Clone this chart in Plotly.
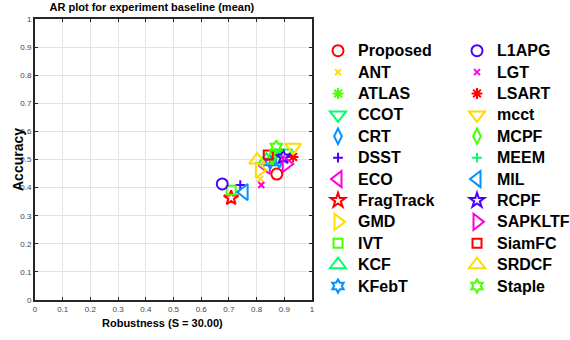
import plotly.graph_objects as go

trackers = ["Proposed", "ANT", "ATLAS", "CCOT", "CRT", "DSST", "ECO", "FragTrack",
            "GMD", "IVT", "KCF", "KFebT", "L1APG", "LGT", "LSART", "mcct", "MCPF",
            "MEEM", "MIL", "RCPF", "SAPKLTF", "SiamFC", "SRDCF", "Staple"]
robustness = [0.873, 0.813, 0.867, 0.900, 0.882, 0.741, 0.835, 0.708,
              0.810, 0.708, 0.835, 0.849, 0.676, 0.817, 0.932, 0.932, 0.857,
              0.885, 0.755, 0.896, 0.907, 0.842, 0.802, 0.871]
accuracy = [0.448, 0.431, 0.523, 0.523, 0.498, 0.409, 0.477, 0.363,
            0.463, 0.391, 0.498, 0.491, 0.413, 0.409, 0.509, 0.544, 0.509,
            0.527, 0.384, 0.509, 0.484, 0.516, 0.498, 0.544]

palette = ["#ff0000", "#ffdb00", "#49ff00", "#00ff6d", "#0092ff", "#4900ff", "#ff00db"]
symbols = ["circle-open", "x-thin-open", "asterisk-open", "triangle-down-open",
           "diamond-tall-open", "cross-thin-open", "triangle-left-open", "star-open",
           "triangle-right-open", "square-open", "triangle-up-open", "hexagram-open"]
sizes = {"circle-open": 11, "x-thin-open": 6, "asterisk-open": 9, "triangle-down-open": 14,
         "diamond-tall-open": 11, "cross-thin-open": 7, "triangle-left-open": 14,
         "star-open": 11, "triangle-right-open": 14, "square-open": 9,
         "triangle-up-open": 14, "hexagram-open": 10}

fig = go.Figure()
for i, name in enumerate(trackers):
    sym = symbols[i % 12]
    col = palette[i % 7]
    fig.add_trace(go.Scatter(
        x=[robustness[i]], y=[accuracy[i]], mode="markers",
        name='<span style="font-size:16px">' + name + '</span>',
        legend="legend" if i < 12 else "legend2",
        marker=dict(symbol=sym, size=sizes[sym], color=col,
                    line=dict(color=col, width=2)),
    ))

axis_common = dict(
    range=[0, 1], dtick=0.1, showgrid=True, gridcolor="#e3e3e3", gridwidth=1,
    zeroline=False, showline=True, linecolor="#262626", linewidth=2, mirror="ticks",
    ticks="inside", ticklen=3, tickcolor="#262626", tickwidth=1, automargin=False,
    tickfont=dict(family="Liberation Sans Narrow, Arial Narrow, Liberation Sans", size=8, color="#444444"),
)
fig.update_xaxes(**axis_common, ticklabelstandoff=0)
fig.update_yaxes(**axis_common, ticklabelstandoff=0)

legend_common = dict(
    xref="container", yref="container",
    yanchor="top", y=1 - 35 / 340, xanchor="left", maxheight=330,
    font=dict(family="Liberation Sans, Arial", size=14.15, color="#000000", weight="bold"),
    bgcolor="rgba(0,0,0,0)", borderwidth=0, itemclick=False,
)

fig.update_layout(
    width=570, height=340,
    margin=dict(l=35, r=258, t=19, b=40, autoexpand=False),
    paper_bgcolor="white", plot_bgcolor="white",
    showlegend=True,
    legend=dict(x=318 / 570, **legend_common),
    legend2=dict(x=457 / 570, **legend_common),
    title=dict(text="AR plot for experiment baseline (mean)", x=0.422, xref="paper",
               xanchor="center", y=1 - 7 / 340, yanchor="middle",
               font=dict(family="Liberation Sans, Arial", size=11, color="#000000", weight="bold")),
    annotations=[
        dict(text="Robustness (S = 30.00)", xref="paper", yref="paper",
             x=(162 - 35) / 277, y=-(323 - 300) / 281, xanchor="center", yanchor="middle",
             showarrow=False,
             font=dict(family="Liberation Sans Narrow, Arial Narrow, Liberation Sans", size=11,
                       color="#000000", weight="bold")),
        dict(text="Accuracy", xref="paper", yref="paper",
             x=-(35 - 18) / 277, y=(300 - 160) / 281, xanchor="center", yanchor="middle",
             textangle=-90, showarrow=False,
             font=dict(family="Liberation Sans, Arial", size=14, color="#000000", weight="bold")),
    ],
)

fig.write_html("out.html")
